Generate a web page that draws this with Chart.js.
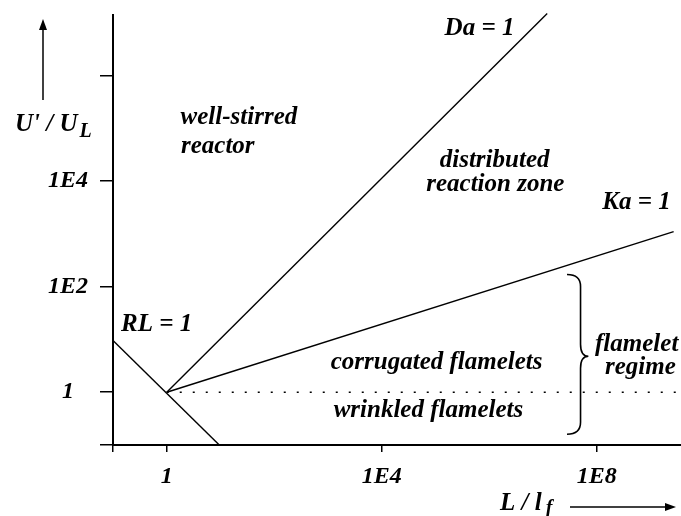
<!DOCTYPE html>
<html>
<head>
<meta charset="utf-8">
<script src="https://cdn.jsdelivr.net/npm/chart.js@4.4.1/dist/chart.umd.min.js"></script>
<style>
  body { margin: 0; background: #fff; }
  #wrap { width: 681px; height: 516px; position: relative; }
</style>
</head>
<body>
<div id="wrap"><canvas id="regimeChart"></canvas></div>
<script>
// regime diagram, both axes logarithmic
const rlX = [0.1, 9.5];
const rlY = [9.5, 0.1];
const daX = [1, 1.2e7];
const daY = [1, 1.5e7];
const kaX = [1, 2.7e9];
const kaY = [1, 1.1e3];
const flameletX = [1, 3.7e9];
const flameletY = [1, 1];

const xTicks = [0.1, 1, 1e4, 1e8];
const xTickLabels = ["", "1", "1E4", "1E8"];
const yTicks = [0.1, 1, 1e2, 1e4, 1e6];
const yTickLabels = ["", "1", "1E2", "1E4", ""];

const FONT = "'Liberation Serif', 'Times New Roman', serif";

function pts(xs, ys) {
  return xs.map((x, i) => ({ x: x, y: ys[i] }));
}

function lineSet(xs, ys, dash) {
  return {
    data: pts(xs, ys),
    borderColor: "#000",
    borderWidth: dash ? 1.6 : 1.4,
    borderDash: dash || [],
    pointRadius: 0,
    tension: 0,
    clip: false,
  };
}

// text inside the plot, placed at data coordinates
const notes = [
  ["well-stirred", 22, 1.6e5, "center"],
  ["reactor", 8.9, 4.5e4, "center"],
  ["distributed", 1.26e6, 2.5e4, "center"],
  ["reaction zone", 1.3e6, 8.5e3, "center"],
  ["Da = 1", 6.6e5, 7.6e6, "center"],
  ["Ka = 1", 5.5e8, 3.9e3, "center"],
  ["RL = 1", 0.65, 19.5, "center"],
  ["corrugated flamelets", 1.05e5, 3.7, "center"],
  ["wrinkled flamelets", 7.4e4, 0.44, "center"],
  ["flamelet", 9.3e7, 8.1, "left"],
  ["regime", 6.5e8, 2.95, "center"],
];

const decorations = {
  id: "decorations",
  afterDraw(chart) {
    const ctx = chart.ctx;
    const sx = chart.scales.x;
    const sy = chart.scales.y;
    ctx.save();
    ctx.fillStyle = "#000";
    ctx.strokeStyle = "#000";

    ctx.font = "italic bold 25px " + FONT;
    ctx.textBaseline = "middle";
    notes.forEach(([txt, x, y, align]) => {
      ctx.textAlign = align;
      ctx.fillText(txt, sx.getPixelForValue(x), sy.getPixelForValue(y));
    });

    // brace for the flamelet regime
    const xl = sx.getPixelForValue(2.8e7);
    const xb = sx.getPixelForValue(5e7);
    const xt = sx.getPixelForValue(7e7);
    const top = sy.getPixelForValue(170);
    const mid = sy.getPixelForValue(4.8);
    const bot = sy.getPixelForValue(0.16);
    const c = 12;
    ctx.lineWidth = 1.6;
    ctx.beginPath();
    ctx.moveTo(xl, top);
    ctx.quadraticCurveTo(xb, top, xb, top + c);
    ctx.lineTo(xb, mid - c);
    ctx.quadraticCurveTo(xb, mid, xt, mid);
    ctx.quadraticCurveTo(xb, mid, xb, mid + c);
    ctx.lineTo(xb, bot - c);
    ctx.quadraticCurveTo(xb, bot, xl, bot);
    ctx.stroke();

    // axis titles with subscripts
    ctx.textAlign = "left";
    ctx.textBaseline = "alphabetic";
    ctx.font = "italic bold 25px " + FONT;
    ctx.fillText("U' / U", 15, 131);
    let w = ctx.measureText("U' / U").width;
    ctx.font = "italic bold 20px " + FONT;
    ctx.fillText("L", 15 + w + 2, 137);

    ctx.font = "italic bold 25px " + FONT;
    ctx.fillText("L / l", 500, 510);
    w = ctx.measureText("L / l").width;
    ctx.font = "italic bold 20px " + FONT;
    ctx.fillText("f", 500 + w + 4, 514);

    // arrows
    ctx.lineWidth = 1.5;
    ctx.beginPath();
    ctx.moveTo(43, 100);
    ctx.lineTo(43, 28);
    ctx.stroke();
    ctx.beginPath();
    ctx.moveTo(43, 19);
    ctx.lineTo(39, 30);
    ctx.lineTo(47, 30);
    ctx.closePath();
    ctx.fill();

    ctx.beginPath();
    ctx.moveTo(570, 507);
    ctx.lineTo(666, 507);
    ctx.stroke();
    ctx.beginPath();
    ctx.moveTo(676, 507);
    ctx.lineTo(665, 503);
    ctx.lineTo(665, 511);
    ctx.closePath();
    ctx.fill();
    ctx.restore();
  },
};

const ctx = document.getElementById("regimeChart").getContext("2d");
new Chart(ctx, {
  type: "line",
  data: {
    datasets: [
      lineSet(rlX, rlY),
      lineSet(daX, daY),
      lineSet(kaX, kaY),
      lineSet(flameletX, flameletY, [2, 11]),
    ],
  },
  options: {
    responsive: true,
    maintainAspectRatio: false,
    animation: false,
    layout: { padding: { top: 15, right: 0, left: 0, bottom: 0 } },
    plugins: { legend: { display: false }, tooltip: { enabled: false } },
    scales: {
      x: {
        type: "logarithmic",
        min: 0.1,
        max: 3.7e9,
        bounds: "data",
        afterFit: (s) => {
          s.height = 71;
          s.paddingLeft = 0;
          s.paddingRight = 0;
        },
        afterBuildTicks: (s) => { s.ticks = xTicks.map((v) => ({ value: v })); },
        border: { color: "#000", width: 2 },
        grid: { drawOnChartArea: false, color: "#000", lineWidth: 1.5, tickLength: 7 },
        ticks: {
          color: "#000",
          padding: 10,
          maxRotation: 0,
          autoSkip: false,
          font: { family: FONT, size: 24, style: "italic", weight: "bold" },
          callback: (v, i) => xTickLabels[i],
        },
      },
      y: {
        type: "logarithmic",
        min: 0.1,
        max: 1.4e7,
        bounds: "data",
        afterFit: (s) => {
          s.width = 113;
          s.paddingTop = 0;
          s.paddingBottom = 0;
        },
        afterBuildTicks: (s) => { s.ticks = yTicks.map((v) => ({ value: v })); },
        border: { color: "#000", width: 2 },
        grid: { drawOnChartArea: false, color: "#000", lineWidth: 1.5, tickLength: 13 },
        ticks: {
          color: "#000",
          padding: 12,
          crossAlign: "center",
          autoSkip: false,
          font: { family: FONT, size: 24, style: "italic", weight: "bold" },
          callback: (v, i) => yTickLabels[i],
        },
      },
    },
  },
  plugins: [decorations],
});
</script>
</body>
</html>
